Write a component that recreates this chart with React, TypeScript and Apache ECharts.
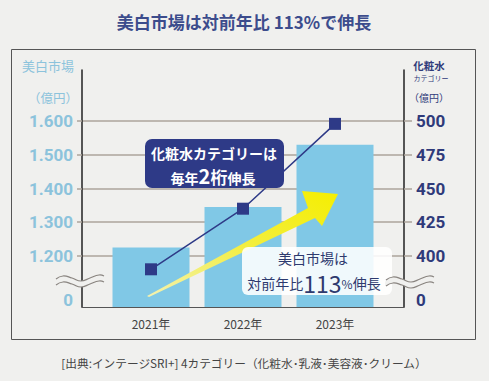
import React, { useEffect, useRef } from "react";
import * as echarts from "echarts";

const years = ["2021年", "2022年", "2023年"];
const yearIdx = [0, 1, 2];
const marketValues = [1225, 1345, 1530]; // 美白市場 (億円)
const lotionValues = [390, 435, 498]; // 化粧水カテゴリー (億円)
const leftTicks = [1200, 1300, 1400, 1500, 1600];
const rightTicks = [400, 425, 450, 475, 500];
const leftZeroPos = 1069; // where "0" is drawn below the axis break
const rightZeroPos = 367;

const BG = "#f0f0ee";
const NAVY = "#2e3a87";
const LIGHTBLUE = "#8cc3dc";
const BAR = "#80c8e6";
const GRID = "#aca49b";
const NUMFONT = "'Roboto', 'Noto Sans', sans-serif";
const JP = "'Noto Sans CJK JP', sans-serif";

function wave(x0: number, y0: number, amp: number) {
  const pts: number[][] = [];
  const xs = [0, 7, 16, 25, 34, 43, 48];
  const ys = [2, -1, 1, 4, 1, -2, -1];
  for (let i = 0; i < xs.length; i++) pts.push([x0 + xs[i], y0 + ys[i] * amp]);
  return pts;
}

function squiggle(x0: number, y0: number) {
  const up = wave(x0, y0, 1);
  const lo = wave(x0, y0 + 6, 1);
  return [
    {
      type: "polygon",
      shape: { points: [...up, ...lo.slice().reverse()], smooth: 0.4 },
      style: { fill: BG },
      z: 50,
    },
    { type: "polyline", shape: { points: up, smooth: 0.5 }, style: { stroke: "#8a8580", lineWidth: 1.2, fill: null }, z: 51 },
    { type: "polyline", shape: { points: lo, smooth: 0.5 }, style: { stroke: "#8a8580", lineWidth: 1.2, fill: null }, z: 51 },
  ];
}

export default function App() {
  const ref = useRef<HTMLDivElement>(null);
  useEffect(() => {
    if (!ref.current) return;
    const chart = echarts.init(ref.current, null, { renderer: "svg" });
    const option: any = {
      animation: false,
      backgroundColor: BG,
      grid: { left: 82, right: 85, top: 70, bottom: 74 },
      xAxis: {
        type: "value",
        min: -0.75,
        max: 2.75,
        axisLine: { show: true, onZero: false, lineStyle: { color: "#555", width: 1 } },
        axisTick: { show: false },
        splitLine: { show: false },
        axisLabel: {
          customValues: yearIdx,
          formatter: (v: number) => years[Math.round(v)] ?? "",
          color: "#444",
          fontSize: 12,
          fontFamily: JP,
          margin: 10,
        },
      },
      yAxis: [
        {
          type: "value",
          min: 1048,
          max: 1752,
          position: "left",
          axisLine: { show: true, onZero: false, lineStyle: { color: "#222", width: 1.5 } },
          axisTick: { show: true, customValues: leftTicks, length: 5, lineStyle: { color: GRID, width: 1.5 } },
          splitLine: { show: true, lineStyle: { color: GRID, width: 1.5 } },
          axisLabel: {
            customValues: [leftZeroPos, ...leftTicks],
            formatter: (v: number) => (v === leftZeroPos ? "0" : (v / 1000).toFixed(3)),
            color: LIGHTBLUE,
            fontSize: 17,
            fontWeight: "bold",
            fontFamily: NUMFONT,
            margin: 9,
          },
        },
        {
          type: "value",
          min: 362,
          max: 538,
          position: "right",
          axisLine: { show: true, onZero: false, lineStyle: { color: "#222", width: 1.5 } },
          axisTick: { show: true, customValues: rightTicks, length: 8, lineStyle: { color: GRID, width: 1.5 } },
          splitLine: { show: false },
          axisLabel: {
            customValues: [rightZeroPos, ...rightTicks],
            formatter: (v: number) => (v === rightZeroPos ? "0" : String(v)),
            color: "#2f3a7a",
            fontSize: 17,
            fontWeight: "bold",
            fontFamily: NUMFONT,
            margin: 12,
          },
        },
      ],
      series: [
        {
          type: "bar",
          yAxisIndex: 0,
          data: yearIdx.map((x, i) => [x, marketValues[i]]),
          barWidth: 77,
          itemStyle: { color: BAR },
          z: 2,
          clip: true,
        },
        {
          type: "line",
          yAxisIndex: 1,
          data: yearIdx.map((x, i) => [x, lotionValues[i]]),
          symbol: "rect",
          symbolSize: 12,
          itemStyle: { color: NAVY },
          lineStyle: { color: NAVY, width: 1.5 },
          z: 4,
        },
      ],
      graphic: [
        // frame
        { type: "rect", shape: { x: 11.5, y: 49.5, width: 464, height: 290 }, style: { fill: "none", stroke: "#555", lineWidth: 1 }, z: 0, silent: true },
        // title
        {
          type: "text",
          x: 244,
          y: 21,
          style: { text: "美白市場は対前年比 113%で伸長", fill: "#3c4c8c", font: `bold 17px ${JP}`, align: "center", verticalAlign: "middle" },
        },
        // left axis titles
        { type: "text", x: 48, y: 65, style: { text: "美白市場", fill: LIGHTBLUE, font: `13px ${JP}`, align: "center", verticalAlign: "middle" } },
        { type: "text", x: 53, y: 97, style: { text: "（億円）", fill: LIGHTBLUE, font: `12.5px ${JP}`, align: "center", verticalAlign: "middle" } },
        // right axis titles
        { type: "text", x: 429, y: 65, style: { text: "化粧水", fill: "#2f3a7a", font: `bold 10.5px ${JP}`, align: "center", verticalAlign: "middle" } },
        { type: "text", x: 431, y: 78, style: { text: "カテゴリー", fill: "#2f3a7a", font: `7px ${JP}`, align: "center", verticalAlign: "middle" } },
        { type: "text", x: 429, y: 97, style: { text: "（億円）", fill: "#2f3a7a", font: `10px ${JP}`, align: "center", verticalAlign: "middle" } },
        // axis breaks
        ...squiggle(56, 277),
        ...squiggle(386, 278),
        // yellow arrow
        {
          type: "polygon",
          z: 20,
          shape: {
            points: [
              [147, 296],
              [308, 208],
              [302, 191],
              [338, 194],
              [322, 226],
              [315, 218],
              [149, 297],
            ],
          },
          style: {
            fill: new echarts.graphic.LinearGradient(0, 1, 1, 0, [
              { offset: 0, color: "#f4f2b0" },
              { offset: 0.5, color: "#f3ee40" },
              { offset: 1, color: "#f5ee00" },
            ]),
          },
        },
        // navy callout
        { type: "rect", z: 30, shape: { x: 145, y: 139, width: 139, height: 49, r: 7 }, style: { fill: NAVY } },
        {
          type: "text",
          z: 31,
          x: 214,
          y: 153,
          style: { text: "化粧水カテゴリーは", fill: "#fff", font: `bold 14px ${JP}`, align: "center", verticalAlign: "middle" },
        },
        {
          type: "text",
          z: 31,
          x: 213,
          y: 175,
          style: {
            text: "{a|毎年}{b|2}{c|桁}{a|伸長}",
            align: "center",
            verticalAlign: "middle",
            rich: {
              a: { fill: "#fff", font: `bold 14px ${JP}`, verticalAlign: "bottom", lineHeight: 18 },
              b: { fill: "#fff", font: `bold 20px ${JP}`, verticalAlign: "bottom", lineHeight: 20 },
              c: { fill: "#fff", font: `bold 17px ${JP}`, verticalAlign: "bottom", lineHeight: 19 },
            },
          },
        },
        // white callout
        { type: "rect", z: 30, shape: { x: 242, y: 247, width: 150, height: 48, r: 6 }, style: { fill: "rgba(255,255,255,0.88)" } },
        {
          type: "text",
          z: 31,
          x: 313,
          y: 258,
          style: { text: "美白市場は", fill: "#2e3a6e", font: `14px ${JP}`, align: "center", verticalAlign: "middle", lineHeight: 16 },
        },
        {
          type: "text",
          z: 31,
          x: 314,
          y: 283,
          style: {
            text: "{a|対前年比}{b|113}{c|%}{a|伸長}",
            align: "center",
            verticalAlign: "middle",
            rich: {
              a: { fill: "#2e3a6e", font: `14px ${JP}`, lineHeight: 18 },
              b: { fill: "#2e3a6e", font: `23px ${JP}`, lineHeight: 22 },
              c: { fill: "#2e3a6e", font: `12px ${JP}`, lineHeight: 16 },
            },
          },
        },
        // source
        {
          type: "text",
          x: 244,
          y: 362,
          style: {
            text: "[出典:インテージSRI+] 4カテゴリー（化粧水･乳液･美容液･クリーム）",
            fill: "#444",
            font: `11.7px ${JP}`,
            align: "center",
            verticalAlign: "middle",
          },
        },
      ],
    };
    chart.setOption(option);
    return () => chart.dispose();
  }, []);
  return (
    <div
      ref={ref}
      style={{ position: "fixed", left: 0, top: 0, width: 489, height: 381, background: BG }}
    />
  );
}
